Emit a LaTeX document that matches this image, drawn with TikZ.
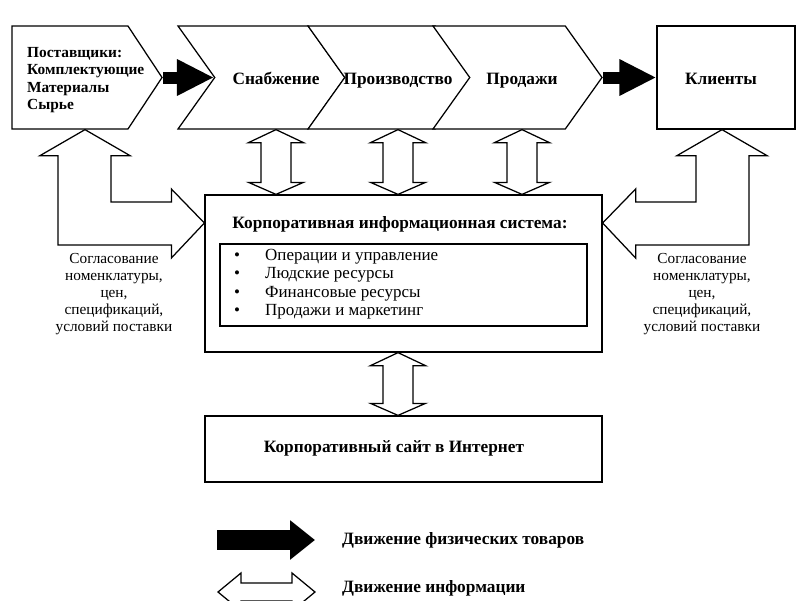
\documentclass[tikz,border=0pt]{standalone}
\usepackage{fontspec}
\setmainfont{Liberation Serif}
\usetikzlibrary{shapes.symbols, arrows.meta, positioning, calc}

\tikzset{
  block/.style = {draw, line width=1.25pt, fill=white, inner sep=0pt},
  stage/.style = {block, signal, signal to=east, signal from=west,
    signal pointer angle=109, minimum width=167pt, minimum height=103pt},
  boldtext/.style = {inner sep=0pt, font=\bfseries\fontsize{17.3}{19}\selectfont},
  plaintext/.style = {inner sep=0pt, font=\fontsize{17}{19}\selectfont},
  sidenote/.style = {inner sep=0pt, align=center, font=\fontsize{15.3}{17}\selectfont},
  goods/.style = {line width=12pt, -{Triangle[length=37pt, width=34pt]}},
  info/.style = {draw, line width=1.25pt, fill=white},
}

% white double arrows: top tip to bottom tip, left tip to right tip
\newcommand{\infoarrowv}[2]{%
  \draw[info] #1 -- ++(27.5,13) -- ++(-12.5,0) -- ($#2+(15,-12)$) -- ++(12.5,0)
    -- #2 -- ++(-27.5,-12) -- ++(12.5,0) -- ($#1+(-15,13)$) -- ++(-12.5,0) -- cycle;}
\newcommand{\infoarrowh}[2]{%
  \draw[info] #1 -- ++(23,-19) -- ++(0,10) -- ($#2+(-23,-9)$) -- ++(0,-10)
    -- #2 -- ++(-23,19) -- ++(0,-10) -- ($#1+(23,9)$) -- ++(0,10) -- cycle;}

\begin{document}
\begin{tikzpicture}[x=1pt, y=-1pt]
  \useasboundingbox (0,0) rectangle (800,600);

  % value chain
  \node (sup) [block, signal, signal to=east, signal pointer angle=113,
    minimum width=150pt, minimum height=103pt] at (70,77.5) {};
  \node (supt) [boldtext, align=left, anchor=west,
    font=\bfseries\fontsize{15.4}{17.4}\selectfont] at (27,80)
    {Поставщики:\\Комплектующие\\Материалы\\Сырье};
  \node (s1) [stage] at (261.5,77.5) {};
  \node (s2) [stage, minimum width=164pt] at (390,77.5) {};
  \node (s3) [stage, minimum width=169pt] at (517.5,77.5) {};
  \node (kli) [block, minimum width=138pt, minimum height=103pt] at (726,77.5) {};

  \node (t1) [boldtext, anchor=base] at (276,84) {Снабжение};
  \node (t2) [boldtext, anchor=base] at (398,84) {Производство};
  \node (t3) [boldtext, anchor=base] at (522,84) {Продажи};
  \node (t4) [boldtext, anchor=base] at (721,84) {Клиенты};

  \draw [goods] (sup.east) -- (s1.west);
  \draw [goods] (s3.east) -- (kli.west);

  % information system
  \node (kis) [block, minimum width=397pt, minimum height=157pt] at (403.5,273.5) {};
  \node (kist) [boldtext, anchor=base] at (400,228) {Корпоративная информационная система:};
  \node (list) [block, minimum width=367pt, minimum height=82pt] at (403.5,285) {};
  \foreach \txt [count=\i] in {Операции и управление, Людские ресурсы,
      Финансовые ресурсы, Продажи и маркетинг} {
    \node (bul\i) [plaintext] at (237,238.5+18.3*\i) {\textbullet};
    \node (item\i) [plaintext, anchor=west] at (265,238.5+18.3*\i) {\txt};
  }

  \node (site) [block, minimum width=397pt, minimum height=66pt] at (403.5,449) {};
  \node (sitet) [boldtext, anchor=base] at (394,452) {Корпоративный сайт в Интернет};

  \infoarrowv{(t1 |- s1.south)}{(t1 |- kis.north)}
  \infoarrowv{(t2 |- s2.south)}{(t2 |- kis.north)}
  \infoarrowv{(t3 |- s3.south)}{(t3 |- kis.north)}
  \infoarrowv{(t2 |- kis.south)}{(t2 |- site.north)}

  % coordination with suppliers and clients
  \coordinate (lt) at ($(sup.south)+(15,0)$);
  \coordinate (rt) at ($(kli.south)+(-4,0)$);
  \coordinate (kl) at ($(kis.west)+(0,-50.5)$);
  \coordinate (kr) at ($(kis.east)+(0,-50.5)$);
  \draw [info] (lt) -- ++(45,26) -- ++(-19,0) |- ($(kl)+(-33,-21)$)
    -- ++(0,-13) -- (kl) -- ++(-33,35) -- ++(0,-13)
    -| ($(lt)+(-27,26)$) -- ++(-18,0) -- cycle;
  \draw [info] (rt) -- ++(-45,26) -- ++(19,0) |- ($(kr)+(33,-21)$)
    -- ++(0,-13) -- (kr) -- ++(33,35) -- ++(0,-13)
    -| ($(rt)+(27,26)$) -- ++(18,0) -- cycle;

  \node (nl) [sidenote] at (114,294) {Согласование\\номенклатуры,\\цен,\\спецификаций,\\условий поставки};
  \node (nr) [sidenote] at (702,294) {Согласование\\номенклатуры,\\цен,\\спецификаций,\\условий поставки};

  % legend
  \coordinate (g0) at (217,540);
  \coordinate (g1) at (315,540);
  \node (gt) [boldtext, anchor=west] at (342,540) {Движение физических товаров};
  \draw [goods, line width=20pt, -{Triangle[length=25pt, width=38pt]}] (g0) -- (g1);

  \coordinate (i0) at (218,592);
  \coordinate (i1) at (315,592);
  \node (it) [boldtext, anchor=west] at (342,588) {Движение информации};
  \infoarrowh{(i0)}{(i1)}
\end{tikzpicture}
\end{document}
